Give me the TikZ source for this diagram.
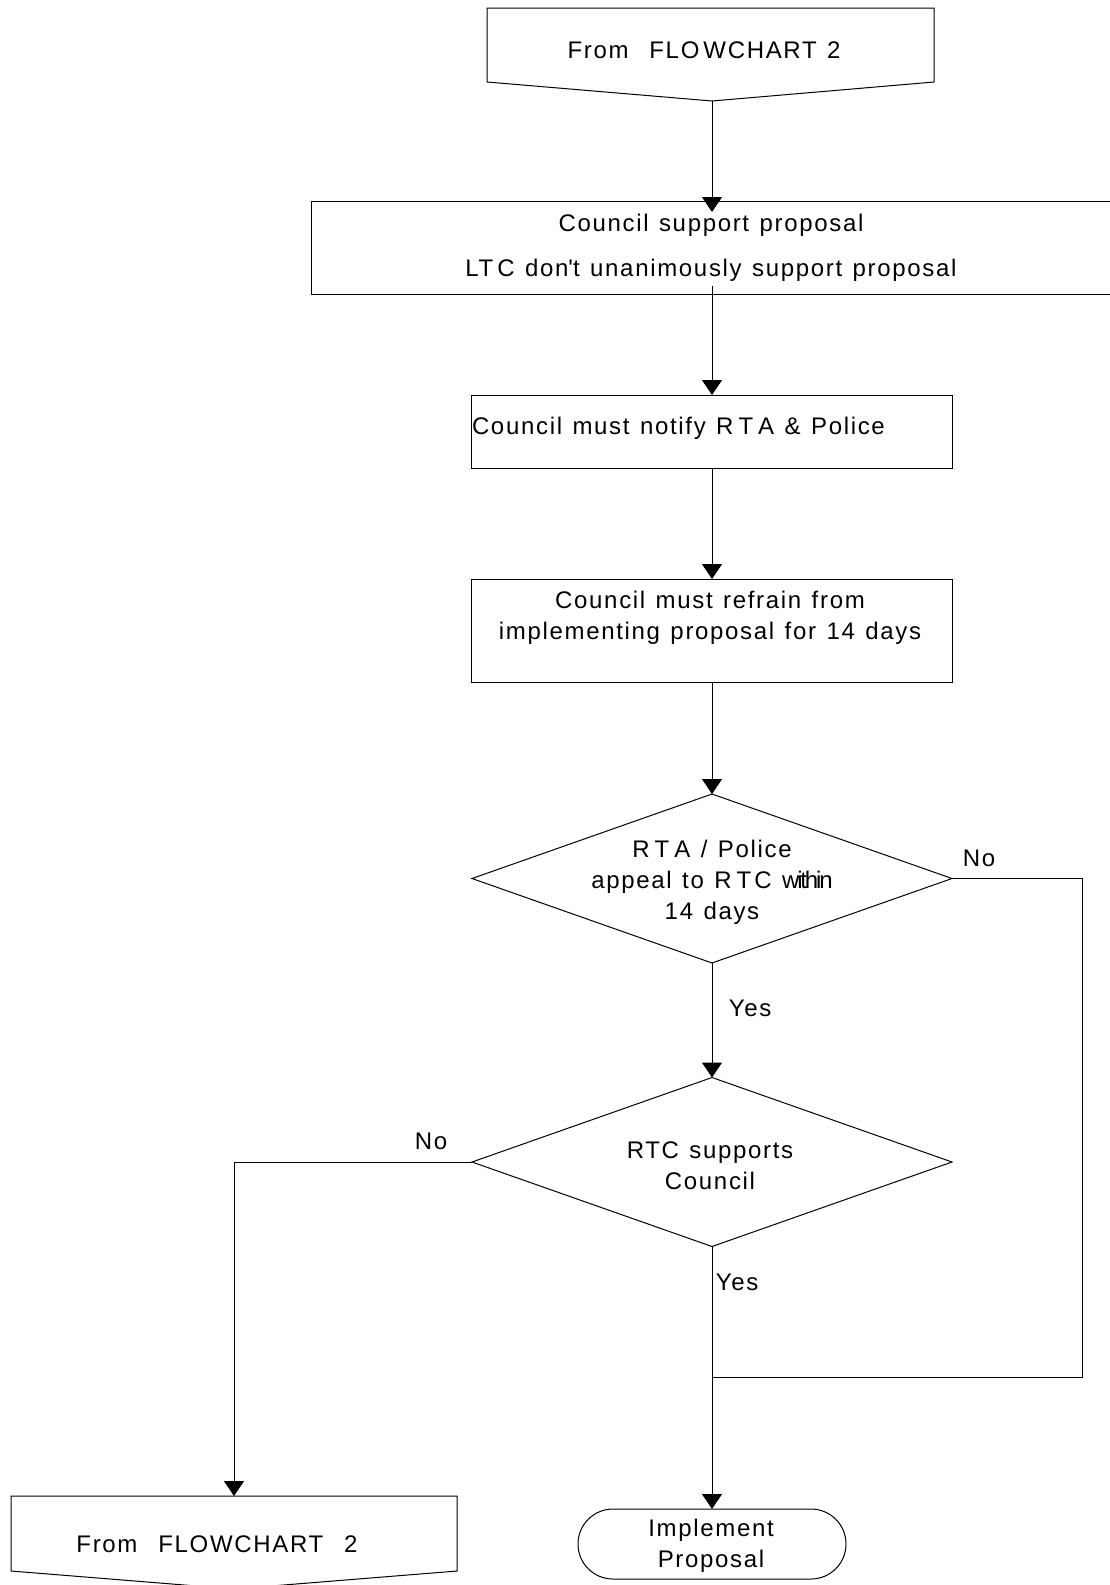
\documentclass[tikz,border=0pt]{standalone}
\usepackage{fontspec}
\setmainfont{Liberation Sans}[LetterSpace=7, WordSpace=1.25]
\usetikzlibrary{arrows.meta,shapes.geometric}
\begin{document}
\begin{tikzpicture}[x=0.5pt,y=-0.5pt,
  every node/.style={font=\fontsize{12}{15.5}\selectfont, inner sep=0pt, outer sep=0pt},
  line/.style={line width=0.5pt},
  arr/.style={line, -{Triangle[width=10pt,length=7.5pt]}},
  procbox/.style={draw, line width=0.5pt, rectangle},
  decision/.style={draw, line width=0.5pt, diamond, minimum width=240pt, minimum height=84.5pt},
  terminal/.style={draw, line width=0.5pt, rectangle, rounded corners=17.5pt,
    minimum width=134pt, minimum height=35pt},
  lbl/.style={align=center}
]
\useasboundingbox (0,0) rectangle (1109,1585);

% off-page connector at the top
\draw[line] (487,8) -- (934,8) -- (934,82) -- (712,101) -- (487,82) -- cycle;
\coordinate (topTip) at (712,101);
\node[lbl] (topTxt) at (704,50) {From\ \ FLO\kern2pt WCHART\ 2};

% process boxes
\node[procbox, minimum width=404.5pt, minimum height=46.5pt] (b2) at (715.5,247.5) {};
\node[lbl] (b2Txt) at (711,248) {Council support proposal\\[7pt]LT\kern2pt C don\textquotesingle t unanimously support proposal};

\node[procbox, minimum width=240.5pt, minimum height=36.5pt] (b3) at (712,431.5) {};
\node[anchor=west] (b3Txt) at (472,428) {Council must notify R\kern2.5pt T\kern2.5pt A \& Police};

\node[procbox, minimum width=240.5pt, minimum height=51.5pt] (b4) at (712,630.5) {};
\node[lbl] (b4Txt) at (710,618) {Council must refrain from\\implementing proposal for 14 days};

% decisions
\node[decision] (d1) at (712,878.5) {};
\node[lbl] (d1Txt) at (712,882) {R\kern2.5pt T\kern2.5pt A / Police\\appeal to R\kern2.5pt T\kern1.5pt C {\addfontfeatures{LetterSpace=-9}within}\\14 days};

\node[decision] (d2) at (712,1162) {};
\node[lbl] (d2Txt) at (710,1166) {RTC supports\\Council};

% terminal
\node[terminal] (term) at (712,1544) {};
\node[lbl] (termTxt) at (711,1546) {Implement\\Proposal};

% off-page connector at the bottom left
\draw[line] (11,1496) -- (457,1496) -- (457,1571) -- (234,1589) -- (11,1571) -- cycle;
\coordinate (botTop) at (234,1496);
\node[lbl] (botTxt) at (217,1544) {From\ \ FLOWCHART\ \ 2};

% branch labels
\node (no1) at (979,858) {No};
\node (yes1) at (750,1008) {Yes};
\node (no2) at (431,1141) {No};
\node (yes2) at (737,1282) {Yes};

% connectors
\draw[arr] (topTip) -- ([yshift=-5.5pt]topTip |- b2.north);
\draw[arr] ([yshift=4pt]b2.south -| b3.north) -- (b3.north);
\draw[arr] (b3.south) -- (b4.north);
\draw[arr] (b4.south) -- (d1.north);
\draw[arr] (d1.south) -- (d2.north);
\coordinate (noRight) at (1082,1377);
\coordinate (merge) at (712,1377);
\draw[line] (d1.east) -| (noRight) -- (merge);
\draw[arr] (d2.south) -- (term.north);
\draw[arr] (d2.west) -| (botTop);
\end{tikzpicture}
\end{document}
